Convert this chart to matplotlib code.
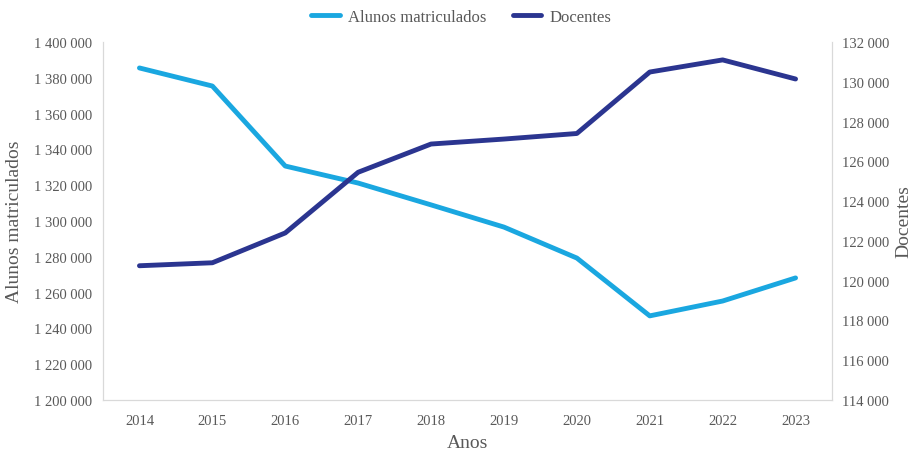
import matplotlib.pyplot as plt
from matplotlib.ticker import FuncFormatter

anos = ['2014', '2015', '2016', '2017', '2018', '2019', '2020', '2021', '2022', '2023']
alunos = [1385500, 1375400, 1330700, 1321200, 1309000, 1296600, 1279300, 1247000, 1255300, 1268200]
docentes = [120750, 120900, 122400, 125450, 126870, 127120, 127400, 130490, 131100, 130140]

c_alunos = '#1aa7e0'
c_docentes = '#2b3590'
c_text = '#595959'
c_spine = '#d9d9d9'

plt.rcParams['font.family'] = ['Liberation Serif', 'DejaVu Serif']


def fmt(v, pos):
    return '{:,.0f}'.format(v).replace(',', ' ')


fig = plt.figure(figsize=(9.14, 4.52), dpi=100)
ax = fig.add_axes([103 / 914, 51 / 452, 729 / 914, 358 / 452])
ax2 = ax.twinx()

x = range(len(anos))
l1, = ax.plot(x, alunos, color=c_alunos, lw=3.5, label='Alunos matriculados', solid_capstyle='round')
l2, = ax2.plot(x, docentes, color=c_docentes, lw=3.5, label='Docentes', solid_capstyle='round')

ax.set_xlim(-0.5, 9.5)
ax.set_ylim(1200000, 1400000)
ax.set_yticks(range(1200000, 1400001, 20000))
ax2.set_ylim(114000, 132000)
ax2.set_yticks(range(114000, 132001, 2000))
ax.set_xticks(list(x))
ax.set_xticklabels(anos)
ax.yaxis.set_major_formatter(FuncFormatter(fmt))
ax2.yaxis.set_major_formatter(FuncFormatter(fmt))

for a in (ax, ax2):
    a.spines['top'].set_visible(False)
    for s in ('left', 'right', 'bottom'):
        a.spines[s].set_color(c_spine)
    a.tick_params(colors=c_text, labelsize=10.5, length=0, pad=8)
ax.tick_params(axis='x', pad=10)
ax2.tick_params(axis='y', pad=7)

ax.set_ylabel('Alunos matriculados', color=c_text, fontsize=14)
ax.yaxis.set_label_coords(-80 / 729, 0.5)
ax2.set_ylabel('Docentes', color=c_text, fontsize=14)
ax2.yaxis.set_label_coords(1 + 63 / 729, 0.5)
ax.set_xlabel('Anos', color=c_text, fontsize=14)
ax.xaxis.set_label_coords(0.5, -34 / 358)

fig.legend(handles=[l1, l2], loc='upper center', bbox_to_anchor=(0.505, 1.012), ncol=2,
           frameon=False, fontsize=12, labelcolor=c_text, handlelength=1.7,
           handletextpad=0.5, columnspacing=1.6)

fig.savefig('out.png', dpi=100)
